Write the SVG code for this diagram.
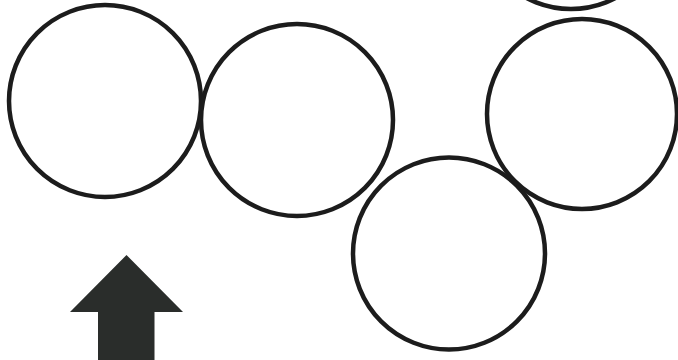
<svg xmlns="http://www.w3.org/2000/svg" width="678" height="360" viewBox="0 0 678 360">
<style>
.c{fill:none;stroke:#1c1c1c;stroke-width:4.5}
.a{fill:#2a2d2b}
</style>
<rect width="678" height="360" fill="#ffffff"/>
<g id="circle-top"><circle class="c" cx="571" cy="-86" r="95"/></g>
<g id="circle-1"><circle class="c" cx="105" cy="101" r="96"/></g>
<g id="circle-2"><circle class="c" cx="297" cy="120" r="96"/></g>
<g id="circle-3"><circle class="c" cx="449" cy="253.5" r="96"/></g>
<g id="circle-4"><circle class="c" cx="582" cy="114" r="95"/></g>
<g id="arrow"><polygon class="a" points="126.5,255 183,312 154.5,312 154.5,360 98,360 98,312 70,312"/></g>
<g id="connectors"></g>
</svg>
